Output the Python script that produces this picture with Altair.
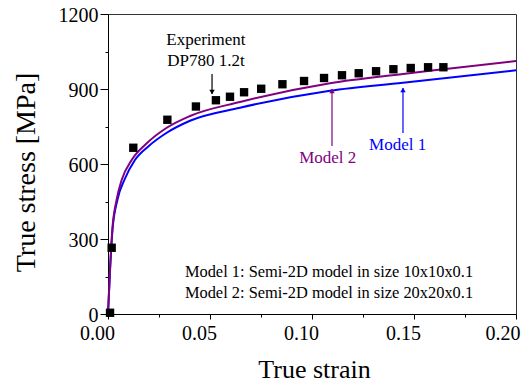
import altair as alt
import pandas as pd

# Experiment (DP780 1.2t)
exp_strain = [0.001, 0.0018, 0.0124, 0.0291, 0.0431, 0.0529, 0.0598, 0.0667, 0.0751,
              0.0855, 0.0961, 0.1059, 0.1147, 0.1229, 0.1314, 0.1399, 0.1484, 0.1569, 0.1644]
exp_stress = [5, 265, 665, 777, 830, 855, 869, 887, 901,
              919, 932, 944, 955, 963, 971, 979, 984, 987, 987]

# Model 1 (blue)
m1_strain = [0.0, 0.001, 0.0022, 0.0046, 0.008, 0.0132, 0.02, 0.0288, 0.0402,
             0.0647, 0.1088, 0.1446, 0.20]
m1_stress = [0, 175, 336, 456, 536, 616, 672, 725, 773,
             825, 893, 925, 975]

# Model 2 (purple)
m2_strain = [0.0, 0.001, 0.0021, 0.0042, 0.0067, 0.0116, 0.019, 0.0288, 0.0402,
             0.0647, 0.1088, 0.1446, 0.1644, 0.20]
m2_stress = [0, 180, 336, 456, 536, 616, 683, 745, 792,
             848, 923, 960, 979, 1012]

x_major = [0.0, 0.05, 0.10, 0.15, 0.20]
x_minor = [0.025, 0.075, 0.125, 0.175]
y_major = [0, 300, 600, 900, 1200]
y_minor = [150, 450, 750, 1050]

# annotation texts (data units)
exp_label = ["Experiment", "DP780 1.2t"]
exp_label_x = [0.048, 0.048]
exp_label_y = [1076, 993]
note_lines = ["Model 1: Semi-2D model in size 10x10x0.1",
              "Model 2: Semi-2D model in size 20x20x0.1"]
note_x = [0.0377, 0.0377]
note_y = [147, 63]
model_labels = ["Model 2", "Model 1"]
model_label_x = [0.1077, 0.1420]
model_label_y = [624, 676]
model_colors = ["#800080", "#0000FF"]

# arrows: x, tail y, tip y
arrow_x = [0.051, 0.1098, 0.1446]
arrow_y1 = [960, 672, 724]
arrow_y2 = [880, 900, 904]
arrow_head_y = [888, 892, 896]
arrow_shape = ["triangle-down", "triangle-up", "triangle-up"]
arrow_color = ["#000000", "#800080", "#0000FF"]

FONT = "Liberation Serif"
xs = alt.Scale(domain=[0, 0.2], nice=False, zero=False)
ys = alt.Scale(domain=[0, 1200], nice=False)

df_exp = pd.DataFrame({"x": exp_strain, "y": exp_stress})
df_m1 = pd.DataFrame({"x": m1_strain, "y": m1_stress})
df_m2 = pd.DataFrame({"x": m2_strain, "y": m2_stress})
df_minor = pd.DataFrame({"x": x_minor, "y": y_minor})

main_x_axis = alt.Axis(values=x_major, format=".2f", tickSize=5, labelFont=FONT,
                       labelFontSize=20, labelPadding=4,
                       labelOffset={"expr": "datum.value >= 0.2 ? -13.5 : -11"},
                       title="True strain",
                       titleFont=FONT, titleFontSize=26, titleFontWeight="normal",
                       titleX=206, titleY=63, titleBaseline="alphabetic", titleAlign="center",
                       grid=False, domainColor="black", tickColor="black",
                       labelColor="black", titleColor="black", labelFlush=False,
                       orient="bottom")
main_y_axis = alt.Axis(values=y_major, format="d", tickSize=8, labelFont=FONT, labelFontSize=20,
                       labelPadding=2, labelOffset=1, title="True stress [MPa]", titleFont=FONT,
                       titleFontSize=28, titleFontWeight="normal", titleX=-74, titleY=158,
                       titleBaseline="alphabetic", titleAlign="center", titleAngle=270,
                       grid=False, domainColor="black", tickColor="black",
                       labelColor="black", titleColor="black", orient="left")

m1_line = alt.Chart(df_m1).mark_line(color="#0000FF", strokeWidth=2, interpolate="monotone").encode(
    x=alt.X("x:Q", scale=xs, axis=None), y=alt.Y("y:Q", scale=ys, axis=None))
m2_line = alt.Chart(df_m2).mark_line(color="#800080", strokeWidth=2, interpolate="monotone").encode(
    x=alt.X("x:Q", scale=xs, axis=None), y=alt.Y("y:Q", scale=ys, axis=None))

exp_pts = alt.Chart(df_exp).mark_square(color="black", size=70, opacity=1).encode(
    x=alt.X("x:Q", scale=xs, axis=main_x_axis), y=alt.Y("y:Q", scale=ys, axis=main_y_axis))

minor = alt.Chart(df_minor).mark_point(opacity=0).encode(
    x=alt.X("x:Q", scale=xs, axis=alt.Axis(values=x_minor, tickSize=3, labels=False, domain=False,
                                             title=None, grid=False, tickColor="black", orient="bottom")),
    y=alt.Y("y:Q", scale=ys, axis=alt.Axis(values=y_minor, tickSize=3, labels=False, domain=False,
                                             title=None, grid=False, tickColor="black", orient="left")))

df_exp_lbl = pd.DataFrame({"x": exp_label_x, "y": exp_label_y, "t": exp_label})
exp_text = alt.Chart(df_exp_lbl).mark_text(font=FONT, fontSize=17, align="center",
                                           baseline="alphabetic", color="black").encode(
    x=alt.X("x:Q", scale=xs, axis=None), y=alt.Y("y:Q", scale=ys, axis=None), text="t:N")

df_note = pd.DataFrame({"x": note_x, "y": note_y, "t": note_lines})
note_text = alt.Chart(df_note).mark_text(font=FONT, fontSize=16.4, align="left",
                                         baseline="alphabetic", color="black").encode(
    x=alt.X("x:Q", scale=xs, axis=None), y=alt.Y("y:Q", scale=ys, axis=None), text="t:N")

df_ml = pd.DataFrame({"x": model_label_x, "y": model_label_y, "t": model_labels, "c": model_colors})
model_text = alt.Chart(df_ml).mark_text(font=FONT, fontSize=17, align="center",
                                        baseline="middle").encode(
    x=alt.X("x:Q", scale=xs, axis=None), y=alt.Y("y:Q", scale=ys, axis=None), text="t:N",
    color=alt.Color("c:N", scale=None))

df_ar = pd.DataFrame({"x": arrow_x, "y1": arrow_y1, "y2": arrow_y2, "yh": arrow_head_y,
                      "s": arrow_shape, "c": arrow_color})
arrow_lines = alt.Chart(df_ar).mark_rule(strokeWidth=1.2).encode(
    x=alt.X("x:Q", scale=xs, axis=None), y=alt.Y("y1:Q", scale=ys, axis=None), y2="y2:Q",
    color=alt.Color("c:N", scale=None))
arrow_heads = alt.Chart(df_ar).mark_point(filled=True, size=30, opacity=1).encode(
    x=alt.X("x:Q", scale=xs, axis=None), y=alt.Y("yh:Q", scale=ys, axis=None),
    shape=alt.Shape("s:N", scale=None), color=alt.Color("c:N", scale=None))

chart = alt.layer(m1_line, m2_line, exp_pts, minor, exp_text, note_text, model_text,
                  arrow_lines, arrow_heads).resolve_axis(x="independent", y="independent").properties(
    width=408, height=300,
    autosize=alt.AutoSizeParams(type="none"),
    padding={"left": 100, "top": 6, "right": 5, "bottom": 64},
    background="white",
).configure_view(stroke="#333333", strokeWidth=1)

chart.save("out.html", embed_options={"renderer": "svg", "actions": False})
